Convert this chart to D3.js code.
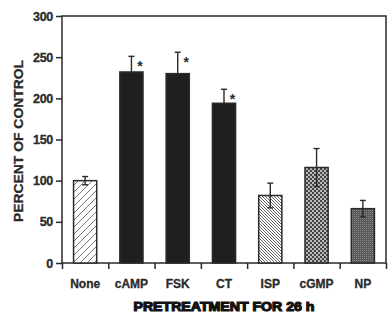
<!DOCTYPE html>
<html><head><meta charset="utf-8">
<script src="https://cdn.jsdelivr.net/npm/d3@7"></script>
<style>body{margin:0;background:#fff}svg{display:block}</style>
</head><body>
<script>
const categories = ["None","cAMP","FSK","CT","ISP","cGMP","NP"];
const values = [100, 232, 230, 194, 82, 116, 66];
const errors = [5, 19, 26, 17, 15, 23, 10];
const significant = [false, true, true, true, false, false, false];
const fills = ["hatchA","solid","solid","solid","hatchB","check","dense"];
const yTicks = [0, 50, 100, 150, 200, 250, 300];
const yLabel = "PERCENT OF CONTROL";
const xLabel = "PRETREATMENT FOR 26 h";

const W = 388, H = 316;
const m = {left: 62, right: 2, top: 16, bottom: 53};
const svg = d3.select("body").append("svg").attr("width", W).attr("height", H);
const defs = svg.append("defs");
const ink = "#2a2a2a";

// patterns
const pA = defs.append("pattern").attr("id","hatchA").attr("patternUnits","userSpaceOnUse")
  .attr("width",7).attr("height",7);
pA.append("rect").attr("width",7).attr("height",7).attr("fill","#fff");
pA.append("path").attr("d","M-1,8 L8,-1 M-1,1 L1,-1 M6,8 L8,6").attr("stroke","#666").attr("stroke-width",0.9);
const pB = defs.append("pattern").attr("id","hatchB").attr("patternUnits","userSpaceOnUse")
  .attr("width",3).attr("height",3);
pB.append("rect").attr("width",3).attr("height",3).attr("fill","#fff");
pB.append("path").attr("d","M-1,-1 L4,4 M-1,2 L1,4 M2,-1 L4,1").attr("stroke","#555").attr("stroke-width",0.9);
const pC = defs.append("pattern").attr("id","check").attr("patternUnits","userSpaceOnUse")
  .attr("width",4).attr("height",4);
pC.append("rect").attr("width",4).attr("height",4).attr("fill","#bbb");
pC.append("rect").attr("width",2).attr("height",2).attr("fill","#444");
pC.append("rect").attr("x",2).attr("y",2).attr("width",2).attr("height",2).attr("fill","#444");
const pD = defs.append("pattern").attr("id","dense").attr("patternUnits","userSpaceOnUse")
  .attr("width",2).attr("height",2);
pD.append("rect").attr("width",2).attr("height",2).attr("fill","#5a5a5a");
pD.append("rect").attr("width",1).attr("height",1).attr("fill","#888");

const x = d3.scaleBand().domain(categories).range([m.left, W - m.right]).paddingInner(0.5).paddingOuter(0.25);
const xb = d3.scaleLinear().domain([0, categories.length]).range([m.left, W - m.right]);
const y = d3.scaleLinear().domain([0, 300]).range([H - m.bottom, m.top]);

// frame
svg.append("rect").attr("x", m.left).attr("y", m.top)
  .attr("width", W - m.right - m.left).attr("height", H - m.bottom - m.top)
  .attr("fill","none").attr("stroke", ink).attr("stroke-width", 1.5);

// y axis
const ya = svg.append("g").attr("transform", `translate(${m.left},0)`)
  .call(d3.axisLeft(y).tickValues(yTicks).tickSize(6).tickPadding(3));
ya.select(".domain").remove();
ya.selectAll("line").attr("stroke", ink).attr("stroke-width", 1.5);
ya.selectAll("text").attr("font-family","'Liberation Sans', Arial, sans-serif")
  .attr("font-weight","bold").attr("font-size", 12.5).attr("fill", ink)
  .attr("stroke", ink).attr("stroke-width", 0.3).attr("letter-spacing", -0.3);

// x axis (ticks at boundaries)
const xa = svg.append("g").attr("transform", `translate(0,${H - m.bottom})`)
  .call(d3.axisBottom(xb).tickValues(d3.range(categories.length + 1)).tickSize(6).tickFormat(""));
xa.select(".domain").remove();
xa.selectAll("line").attr("stroke", ink).attr("stroke-width", 1.5);

svg.append("g").selectAll("text").data(categories).join("text")
  .attr("x", d => x(d) + x.bandwidth() / 2).attr("y", 288)
  .attr("text-anchor","middle")
  .attr("font-family","'Liberation Sans', Arial, sans-serif").attr("font-weight","bold")
  .attr("font-size", 12).attr("fill", ink).attr("stroke", ink).attr("stroke-width", 0.3)
  .text(d => d);

// bars
const bars = svg.append("g");
categories.forEach((c, i) => {
  const bx = x(c), bw = x.bandwidth(), cx = bx + bw / 2;
  const top = y(values[i] + errors[i]), bot = y(values[i] - errors[i]);
  bars.append("line").attr("x1", cx).attr("x2", cx).attr("y1", top).attr("y2", bot)
    .attr("stroke", ink).attr("stroke-width", 1.4);
  bars.append("line").attr("x1", cx - 3).attr("x2", cx + 3).attr("y1", top).attr("y2", top)
    .attr("stroke", ink).attr("stroke-width", 1.4);
  bars.append("rect").attr("x", bx).attr("y", y(values[i]))
    .attr("width", bw).attr("height", y(0) - y(values[i]))
    .attr("fill", fills[i] === "solid" ? "#1f1f1f" : `url(#${fills[i]})`)
    .attr("stroke", ink).attr("stroke-width", 1.5);
  if (fills[i] !== "solid") {
    bars.append("line").attr("x1", cx).attr("x2", cx).attr("y1", y(values[i])).attr("y2", bot)
      .attr("stroke", ink).attr("stroke-width", 1.4);
    bars.append("line").attr("x1", cx - 3).attr("x2", cx + 3).attr("y1", bot).attr("y2", bot)
      .attr("stroke", ink).attr("stroke-width", 1.4);
  }
  if (significant[i]) {
    bars.append("text").attr("x", cx + 8.5).attr("y", top + 15)
      .attr("text-anchor","middle").attr("font-family","'Liberation Sans', Arial, sans-serif")
      .attr("font-weight","bold").attr("font-size", 14).attr("fill", ink).text("*");
  }
});

// axis titles
svg.append("text").attr("transform", `translate(23,141) rotate(-90)`)
  .attr("text-anchor","middle").attr("font-family","'Liberation Sans', Arial, sans-serif")
  .attr("font-weight","bold").attr("font-size", 13.5).attr("fill", ink)
  .attr("stroke", ink).attr("stroke-width", 0.3)
  .attr("textLength", 162).attr("lengthAdjust","spacingAndGlyphs").text(yLabel);
svg.append("text").attr("x", 224).attr("y", 311)
  .attr("text-anchor","middle").attr("font-family","'Liberation Sans', Arial, sans-serif")
  .attr("font-weight","bold").attr("font-size", 12).attr("fill", "#111")
  .attr("stroke", "#111").attr("stroke-width", 1.1)
  .attr("textLength", 181).attr("lengthAdjust","spacingAndGlyphs").text(xLabel);
</script>
</body></html>
